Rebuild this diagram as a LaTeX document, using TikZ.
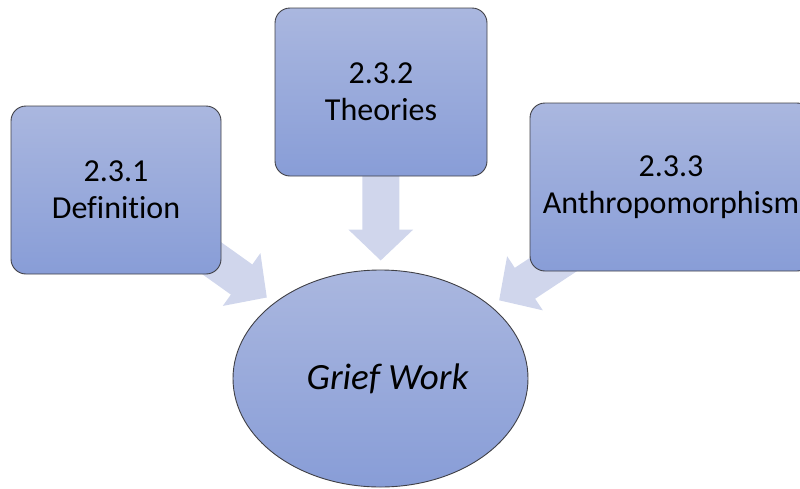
\documentclass[tikz,border=0pt]{standalone}
\usepackage{fontspec}
\setmainfont[Ligatures={NoCommon}]{Carlito}
\usetikzlibrary{shapes.geometric,arrows.meta,backgrounds}

\definecolor{boxtop}{RGB}{170,183,223}
\definecolor{boxbot}{RGB}{136,157,215}
\definecolor{boxline}{RGB}{64,64,70}
\definecolor{flow}{RGB}{208,214,236}

\tikzset{
  topic/.style={rectangle, rounded corners=15pt, draw=boxline, line width=0.9pt,
    top color=boxtop, bottom color=boxbot, inner sep=0pt, align=center,
    font=\fontsize{32}{37}\selectfont},
  hub/.style={ellipse, draw=boxline, line width=0.9pt,
    top color=boxtop, bottom color=boxbot, inner sep=0pt,
    minimum width=295pt, minimum height=217pt,
    font=\fontsize{37}{44}\selectfont\itshape},
  flowarrow/.style={draw=flow, line width=37pt,
    -{Triangle[width=63pt 0 0, length=31pt 0 0]}}
}

\begin{document}
\begin{tikzpicture}[x=1pt, y=-1pt]
  \useasboundingbox (0,0) rectangle (800,488);
  \clip (0,0) rectangle (800,488);

  % central topic; its label sits a little right of and below the centre
  \node[hub] (grief) at (380.5,378.5) {\hspace*{14pt}\raisebox{-4pt}{Grief Work}};

  % sub-topics
  \node[topic, minimum width=210pt, minimum height=168pt] (def) at (116,190)
    {2.3.1\\Definition};
  \node[topic, minimum width=212pt, minimum height=168pt] (theo) at (381,92)
    {2.3.2\\Theories};
  \node[topic, minimum width=282pt, minimum height=168pt] (anth) at (671,187)
    {2.3.3\\Anthropomorphism};

  % block arrows pointing into the central topic
  \begin{pgfonlayer}{background}
    \draw[flowarrow, shorten >=9pt] (def.center) -- (grief);
    \draw[flowarrow, shorten >=9pt] (theo.center) -- (grief);
    \draw[flowarrow, shorten >=10pt] (anth.center) -- (grief);
  \end{pgfonlayer}
\end{tikzpicture}
\end{document}
